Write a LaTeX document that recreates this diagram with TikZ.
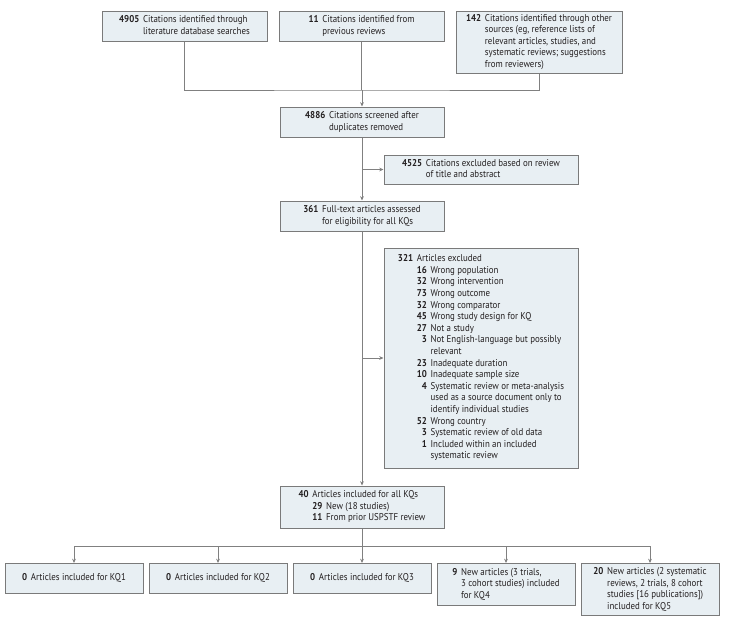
\documentclass[tikz,border=0pt]{standalone}
\usepackage{fontspec}
\setmainfont{PT Sans}[FakeStretch=0.9]
\usetikzlibrary{arrows.meta}
\definecolor{boxfill}{HTML}{E8EFF3}
\definecolor{boxline}{HTML}{7A7A7A}
\definecolor{conn}{HTML}{808080}
\definecolor{txt}{HTML}{231F20}
\newcommand{\nb}[1]{\textbf{#1}}
\newenvironment{lst}{\begin{tabular}{@{}r@{\hspace{2.8pt}}l@{}}}{\end{tabular}}
\newenvironment{lstt}{\begin{tabular}{@{}r@{\hspace{2.8pt}}r@{\hspace{2.8pt}}l@{}}}{\end{tabular}}
\tikzset{
  box/.style={draw=boxline, fill=boxfill, line width=0.75pt, inner sep=0pt, align=center, text=txt,
    font=\fontsize{7.4}{8.7}\selectfont},
  wline/.style={draw=conn, line width=0.75pt},
  arr/.style={wline, -{Stealth[length=3.2pt,width=2.8pt]}}
}
\begin{document}
\begin{tikzpicture}[x=0.75pt,y=-0.75pt]
\useasboundingbox (0,0) rectangle (730,622);
% top sources
\node[box, minimum width=165*0.75pt, minimum height=30*0.75pt] (b1) at (184.5,26)
  {\begin{lst}\nb{4905} & Citations identified through\\ & literature database searches\end{lst}};
\node[box, minimum width=165*0.75pt, minimum height=30*0.75pt] (b2) at (361.5,26)
  {\begin{lst}\nb{11} & Citations identified from\\ & previous reviews\end{lst}};
\node[box, minimum width=166*0.75pt, minimum height=62*0.75pt] (b3) at (539,42)
  {\begin{lst}\nb{142} & Citations identified through other\\ & sources (eg, reference lists of\\ & relevant articles, studies, and\\ & systematic reviews; suggestions\\ & from reviewers)\end{lst}};
% screening
\node[box, minimum width=164*0.75pt, minimum height=30*0.75pt] (b4) at (362,122)
  {\begin{lst}\nb{4886} & Citations screened after\\ & duplicates removed\end{lst}};
\node[box, minimum width=194*0.75pt, minimum height=29*0.75pt] (b5) at (481,169.5)
  {\begin{lst}\nb{4525} & Citations excluded based on review\\ & of title and abstract\end{lst}};
\node[box, minimum width=164*0.75pt, minimum height=30*0.75pt] (b6) at (362,216)
  {\begin{lst}\nb{361} & Full-text articles assessed\\ & for eligibility for all KQs\end{lst}};
\node[box, minimum width=194*0.75pt, minimum height=220*0.75pt] (b7) at (481,358)
  {\begin{lstt}\nb{321} & \multicolumn{2}{@{}l@{}}{Articles excluded}\\
   & \nb{16} & Wrong population\\
   & \nb{32} & Wrong intervention\\
   & \nb{73} & Wrong outcome\\
   & \nb{32} & Wrong comparator\\
   & \nb{45} & Wrong study design for KQ\\
   & \nb{27} & Not a study\\
   & \nb{3} & Not English-language but possibly\\
   & & relevant\\
   & \nb{23} & Inadequate duration\\
   & \nb{10} & Inadequate sample size\\
   & \nb{4} & Systematic review or meta-analysis\\
   & & used as a source document only to\\
   & & identify individual studies\\
   & \nb{52} & Wrong country\\
   & \nb{3} & Systematic review of old data\\
   & \nb{1} & Included within an included\\
   & & systematic review\end{lstt}};
\node[box, minimum width=164*0.75pt, minimum height=42*0.75pt] (b8) at (362,507)
  {\begin{lstt}\nb{40} & \multicolumn{2}{@{}l@{}}{Articles included for all KQs}\\
   & \nb{29} & New (18 studies)\\
   & \nb{11} & From prior USPSTF review\end{lstt}};
% bottom row
\node[box, minimum width=138*0.75pt, minimum height=30*0.75pt, anchor=north] (q1) at (74,563)
  {\begin{lst}\nb{0} & Articles included for KQ1\end{lst}};
\node[box, minimum width=138*0.75pt, minimum height=30*0.75pt, anchor=north] (q2) at (218,563)
  {\begin{lst}\nb{0} & Articles included for KQ2\end{lst}};
\node[box, minimum width=138*0.75pt, minimum height=30*0.75pt, anchor=north] (q3) at (362,563)
  {\begin{lst}\nb{0} & Articles included for KQ3\end{lst}};
\node[box, minimum width=138*0.75pt, minimum height=42*0.75pt, anchor=north] (q4) at (506,563)
  {\begin{lst}\nb{9} & New articles (3 trials,\\ & 3 cohort studies) included\\ & for KQ4\end{lst}};
\node[box, minimum width=138*0.75pt, minimum height=52*0.75pt, anchor=north] (q5) at (650,563)
  {\begin{lst}\nb{20} & New articles (2 systematic\\ & reviews, 2 trials, 8 cohort\\ & studies [16 publications])\\ & included for KQ5\end{lst}};
% connectors
\coordinate (j) at (362,90);
\coordinate (k) at (362,546);
\draw[wline] (b1.south) |- (j) -| (b3.south);
\draw[wline] (b2.south) -- (b2.south |- j);
\draw[arr] (j) -- (b4.north);
\draw[arr] (b4.south) -- (b6.north);
\draw[arr] (b4.south |- b5.west) -- (b5.west);
\draw[arr] (b6.south) -- (b8.north);
\draw[arr] (b6.south |- b7.west) -- (b7.west);
\draw[wline] (b8.south) -- (k);
\draw[arr] (k) -| (q1.north);
\draw[arr] (k) -| (q2.north);
\draw[arr] (k) -- (q3.north);
\draw[arr] (k) -| (q4.north);
\draw[arr] (k) -| (q5.north);
\end{tikzpicture}
\end{document}
